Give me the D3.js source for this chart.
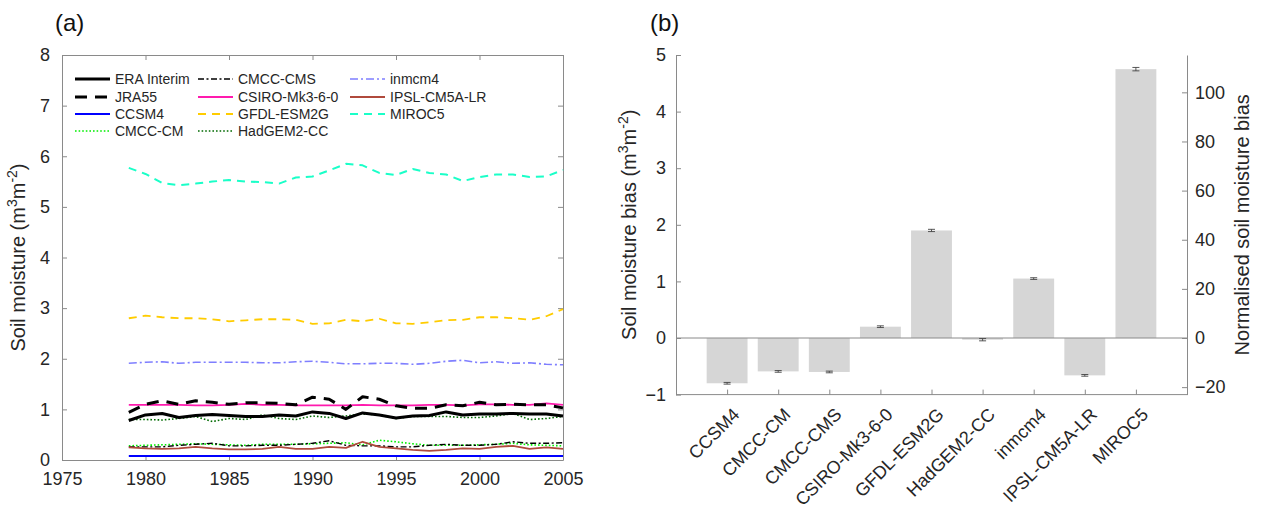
<!DOCTYPE html>
<html>
<head>
<meta charset="utf-8">
<script src="https://cdn.jsdelivr.net/npm/d3@7/dist/d3.min.js"></script>
<style>
  body { margin: 0; background: #fff; }
  svg { font-family: "Liberation Sans", Arial, sans-serif; }
  .ax path, .ax line { stroke: #8a8a8a; }
  .ax text { fill: #262626; font-size: 18px; }
</style>
</head>
<body>
<svg id="fig" width="1268" height="510"></svg>
<script>
// ---- panel (a) data: annual soil moisture, 1979-2005 ----
var years = [1979, 1980, 1981, 1982, 1983, 1984, 1985, 1986, 1987, 1988, 1989, 1990, 1991, 1992,
             1993, 1994, 1995, 1996, 1997, 1998, 1999, 2000, 2001, 2002, 2003, 2004, 2005];

var eraInterim = [0.78, 0.89, 0.92, 0.84, 0.88, 0.90, 0.88, 0.86, 0.86, 0.89, 0.87, 0.95, 0.92, 0.82,
                  0.93, 0.89, 0.83, 0.87, 0.88, 0.95, 0.89, 0.91, 0.91, 0.92, 0.91, 0.91, 0.87];
var jra55 = [0.94, 1.10, 1.17, 1.10, 1.17, 1.14, 1.10, 1.13, 1.13, 1.12, 1.09, 1.24, 1.20, 1.00,
             1.25, 1.20, 1.07, 1.02, 1.02, 1.09, 1.07, 1.14, 1.09, 1.10, 1.09, 1.09, 1.03];
var ccsm4 = [0.08, 0.08, 0.08, 0.08, 0.08, 0.08, 0.08, 0.08, 0.08, 0.08, 0.08, 0.08, 0.08, 0.08,
             0.08, 0.08, 0.08, 0.08, 0.08, 0.08, 0.08, 0.08, 0.08, 0.08, 0.08, 0.08, 0.08];
var cmccCm = [0.28, 0.29, 0.30, 0.31, 0.32, 0.31, 0.30, 0.29, 0.31, 0.31, 0.31, 0.32, 0.33, 0.34,
              0.30, 0.39, 0.36, 0.32, 0.29, 0.29, 0.29, 0.30, 0.31, 0.33, 0.30, 0.29, 0.28];
var cmccCms = [0.26, 0.26, 0.26, 0.29, 0.31, 0.33, 0.28, 0.28, 0.29, 0.29, 0.31, 0.33, 0.38, 0.29,
               0.28, 0.28, 0.26, 0.26, 0.29, 0.31, 0.29, 0.29, 0.31, 0.36, 0.33, 0.33, 0.34];
var csiro = [1.09, 1.09, 1.09, 1.09, 1.08, 1.08, 1.09, 1.11, 1.09, 1.09, 1.08, 1.08, 1.08, 1.08,
             1.09, 1.08, 1.08, 1.08, 1.09, 1.09, 1.08, 1.10, 1.10, 1.09, 1.09, 1.12, 1.09];
var gfdl = [2.80, 2.85, 2.82, 2.80, 2.80, 2.78, 2.74, 2.76, 2.78, 2.78, 2.77, 2.69, 2.70, 2.77,
            2.74, 2.79, 2.70, 2.69, 2.72, 2.76, 2.77, 2.82, 2.82, 2.80, 2.77, 2.84, 2.98];
var hadgem = [0.80, 0.80, 0.79, 0.82, 0.86, 0.76, 0.82, 0.80, 0.89, 0.82, 0.80, 0.87, 0.84, 0.87,
              0.91, 0.89, 0.82, 0.86, 0.86, 0.86, 0.84, 0.84, 0.87, 0.92, 0.80, 0.82, 0.86];
var inmcm4 = [1.91, 1.93, 1.94, 1.91, 1.93, 1.93, 1.93, 1.93, 1.92, 1.92, 1.94, 1.95, 1.93, 1.90,
              1.90, 1.91, 1.91, 1.89, 1.91, 1.95, 1.97, 1.92, 1.94, 1.91, 1.92, 1.89, 1.88];
var ipsl = [0.25, 0.23, 0.22, 0.23, 0.26, 0.23, 0.21, 0.21, 0.22, 0.26, 0.22, 0.22, 0.26, 0.24,
            0.36, 0.26, 0.23, 0.20, 0.18, 0.20, 0.23, 0.22, 0.26, 0.28, 0.22, 0.25, 0.22];
var miroc5 = [5.77, 5.65, 5.47, 5.43, 5.46, 5.50, 5.53, 5.50, 5.49, 5.46, 5.58, 5.60, 5.72, 5.85,
              5.82, 5.67, 5.63, 5.75, 5.67, 5.64, 5.51, 5.59, 5.64, 5.64, 5.59, 5.60, 5.73];

var xTicksA = [1975, 1980, 1985, 1990, 1995, 2000, 2005];
var yTicksA = [0, 1, 2, 3, 4, 5, 6, 7, 8];

// ---- panel (b) data: mean bias per model ----
var models = ['CCSM4', 'CMCC-CM', 'CMCC-CMS', 'CSIRO-Mk3-6-0', 'GFDL-ESM2G',
              'HadGEM2-CC', 'inmcm4', 'IPSL-CM5A-LR', 'MIROC5'];
var bias = [-0.80, -0.59, -0.60, 0.20, 1.90, -0.03, 1.05, -0.66, 4.75];
var biasErr = [0.015, 0.015, 0.015, 0.015, 0.02, 0.02, 0.015, 0.015, 0.03];
var yTicksB = [-1, 0, 1, 2, 3, 4, 5];
var yTicksNorm = [-20, 0, 20, 40, 60, 80, 100];

var series = [
    {name: 'ERA Interim',   values: eraInterim, color: '#000000', width: 3,   dash: null},
    {name: 'JRA55',         values: jra55,      color: '#000000', width: 3,   dash: '12,8'},
    {name: 'CCSM4',         values: ccsm4,      color: '#0000ff', width: 2,   dash: null},
    {name: 'CMCC-CM',       values: cmccCm,     color: '#00ee00', width: 1.6, dash: '1.6,2'},
    {name: 'CMCC-CMS',      values: cmccCms,    color: '#000000', width: 1.4, dash: '6,2.5,2,2.5'},
    {name: 'CSIRO-Mk3-6-0', values: csiro,      color: '#ff1aae', width: 1.8, dash: null},
    {name: 'GFDL-ESM2G',    values: gfdl,       color: '#ffcc00', width: 1.8, dash: '8,6'},
    {name: 'HadGEM2-CC',    values: hadgem,     color: '#006a00', width: 1.6, dash: '1.6,2'},
    {name: 'inmcm4',        values: inmcm4,     color: '#7f7fff', width: 1.6, dash: '8,3,2,3'},
    {name: 'IPSL-CM5A-LR',  values: ipsl,       color: '#b04a3c', width: 1.8, dash: null},
    {name: 'MIROC5',        values: miroc5,     color: '#1affc8', width: 2,   dash: '8,6'}
];

var svg = d3.select('#fig');

function supLabel(g, pre) {
    // "pre (m^3 m^-2)" with superscripts
    var t = g.append('text').attr('text-anchor', 'middle').attr('fill', '#262626').style('font-size', '20px');
    t.append('tspan').text(pre + ' (m');
    t.append('tspan').attr('dy', -8).style('font-size', '14px').text('3');
    t.append('tspan').attr('dy', 8).text('m');
    t.append('tspan').attr('dy', -8).style('font-size', '14px').text('-2');
    t.append('tspan').attr('dy', 8).text(')');
    return t;
}

// ================= panel (a) =================
var A = {left: 62, right: 563, top: 55, bottom: 460};
var xA = d3.scaleLinear().domain([1975, 2005]).range([A.left, A.right]);
var yA = d3.scaleLinear().domain([0, 8]).range([A.bottom, A.top]);

var ga = svg.append('g');

ga.append('g').attr('class', 'ax')
    .attr('transform', 'translate(0,' + A.bottom + ')')
    .call(d3.axisBottom(xA).tickValues(xTicksA).tickFormat(d3.format('d')).tickSizeInner(-5).tickSizeOuter(0).tickPadding(12));
ga.append('g').attr('class', 'ax')
    .attr('transform', 'translate(0,' + A.top + ')')
    .call(d3.axisTop(xA).tickValues(xTicksA).tickFormat('').tickSizeInner(-5).tickSizeOuter(0));
ga.append('g').attr('class', 'ax')
    .attr('transform', 'translate(' + A.left + ',0)')
    .call(d3.axisLeft(yA).tickValues(yTicksA).tickSizeInner(-5).tickSizeOuter(0).tickPadding(12));
ga.append('g').attr('class', 'ax')
    .attr('transform', 'translate(' + A.right + ',0)')
    .call(d3.axisRight(yA).tickValues(yTicksA).tickFormat('').tickSizeInner(-5).tickSizeOuter(0));

var line = d3.line()
    .x(function(d, i) { return xA(years[i]); })
    .y(function(d) { return yA(d); });

// draw thin model lines first, reanalyses on top
var order = [2, 3, 4, 5, 6, 7, 8, 9, 10, 0, 1];
order.forEach(function(k) {
    var s = series[k];
    ga.append('path')
        .attr('d', line(s.values))
        .attr('fill', 'none')
        .attr('stroke', s.color)
        .attr('stroke-width', s.width)
        .attr('stroke-dasharray', s.dash)
        .attr('stroke-linejoin', 'round');
});

// legend, 3 columns, column-major
var legCols = [75, 198, 350], legRows = [79, 97, 114, 131];
series.forEach(function(s, i) {
    var c = Math.floor(i / 4), r = i % 4;
    var lx = legCols[c], ly = legRows[r];
    ga.append('line')
        .attr('x1', lx).attr('x2', lx + 35).attr('y1', ly).attr('y2', ly)
        .attr('stroke', s.color).attr('stroke-width', s.width)
        .attr('stroke-dasharray', s.dash);
    ga.append('text')
        .attr('x', lx + 40).attr('y', ly + 5)
        .attr('fill', '#262626').style('font-size', '14px')
        .text(s.name);
});

supLabel(ga, 'Soil moisture').attr('transform', 'translate(25,' + ((A.top + A.bottom) / 2) + ') rotate(-90)');
ga.append('text').attr('x', 55).attr('y', 31).attr('fill', '#111').style('font-size', '24px').text('(a)');

// ================= panel (b) =================
var B = {left: 676, right: 1187, top: 55, bottom: 394.6};
var xB = d3.scaleLinear().domain([0, models.length + 1]).range([B.left, B.right]);
var yB = d3.scaleLinear().domain([-1, 5]).range([B.bottom, B.top]);
var yN = d3.scaleLinear().domain([-23.04, 115.2]).range([B.bottom, B.top]);

var gb = svg.append('g');

gb.selectAll('rect.bar')
    .data(bias)
    .enter().append('rect')
    .attr('class', 'bar')
    .attr('x', function(d, i) { return xB(i + 1 - 0.4); })
    .attr('width', xB(0.8) - xB(0))
    .attr('y', function(d) { return yB(Math.max(d, 0)); })
    .attr('height', function(d) { return Math.abs(yB(d) - yB(0)); })
    .attr('fill', '#d6d6d6');

// zero line
gb.append('line')
    .attr('x1', B.left).attr('x2', B.right)
    .attr('y1', yB(0)).attr('y2', yB(0))
    .attr('stroke', '#8a8a8a').attr('stroke-width', 1);

// error bars
bias.forEach(function(d, i) {
    var cx = xB(i + 1), e = biasErr[i];
    var eg = gb.append('g').attr('stroke', '#444').attr('stroke-width', 0.9);
    eg.append('line').attr('x1', cx).attr('x2', cx).attr('y1', yB(d - e)).attr('y2', yB(d + e));
    eg.append('line').attr('x1', cx - 3.5).attr('x2', cx + 3.5).attr('y1', yB(d - e)).attr('y2', yB(d - e));
    eg.append('line').attr('x1', cx - 3.5).attr('x2', cx + 3.5).attr('y1', yB(d + e)).attr('y2', yB(d + e));
});

gb.append('g').attr('class', 'ax')
    .attr('transform', 'translate(' + B.left + ',0)')
    .call(d3.axisLeft(yB).tickValues(yTicksB).tickFormat(d3.format('d')).tickSizeInner(-5).tickSizeOuter(0).tickPadding(10));
gb.append('g').attr('class', 'ax')
    .attr('transform', 'translate(' + B.right + ',0)')
    .call(d3.axisRight(yN).tickValues(yTicksNorm).tickFormat(d3.format('d')).tickSizeInner(-5).tickSizeOuter(0).tickPadding(8));

var xAxB = gb.append('g').attr('class', 'ax')
    .attr('transform', 'translate(0,' + B.bottom + ')')
    .call(d3.axisBottom(xB).tickValues(d3.range(1, models.length + 1))
        .tickFormat(function(d) { return models[d - 1]; })
        .tickSizeInner(-5).tickSizeOuter(0));
xAxB.select('.domain').attr('d', 'M' + B.left + ',0H' + B.right);
xAxB.selectAll('.tick text')
    .attr('text-anchor', 'end')
    .attr('dy', 0)
    .attr('transform', 'translate(13,21) rotate(-45)')
    .attr('x', 0).attr('y', 0);

supLabel(gb, 'Soil moisture bias').attr('transform', 'translate(636,' + ((B.top + B.bottom) / 2) + ') rotate(-90)');
gb.append('text')
    .attr('text-anchor', 'middle')
    .attr('transform', 'translate(1249,' + ((B.top + B.bottom) / 2) + ') rotate(-90)')
    .attr('fill', '#262626').style('font-size', '20px')
    .text('Normalised soil moisture bias');
gb.append('text').attr('x', 650).attr('y', 31).attr('fill', '#111').style('font-size', '24px').text('(b)');
</script>
</body>
</html>
